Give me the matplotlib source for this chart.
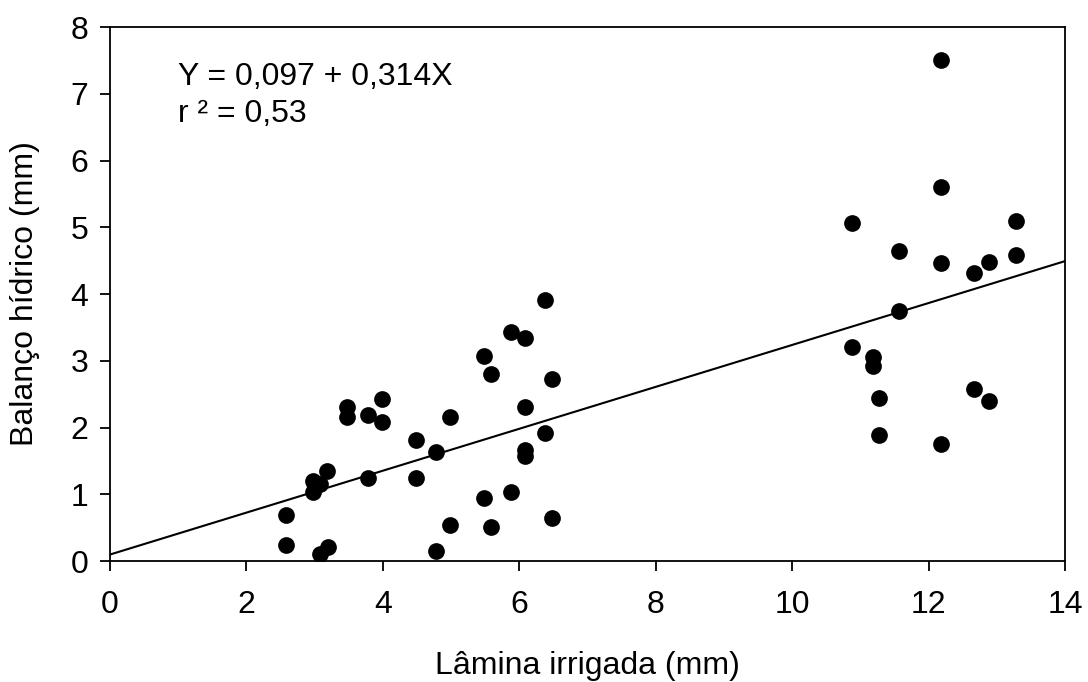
#! /usr/bin/env python3

import numpy as np
import matplotlib
matplotlib.use('Agg')
import matplotlib.pyplot as plt

# lamina irrigada (mm) x balanco hidrico (mm)
lamina = [2.58, 2.58, 2.98, 2.98, 3.08, 3.18, 3.08, 3.19,
          3.48, 3.48, 3.78, 3.98, 3.98, 3.78, 4.48, 4.48, 4.78, 4.78, 4.98, 4.98,
          6.38, 5.88, 6.09, 5.48, 5.58, 6.48, 6.09, 6.38, 6.09, 6.09, 5.48, 5.88, 5.58, 6.48,
          12.18, 12.18, 10.88, 13.28, 11.57, 12.18, 13.28, 12.88, 12.67, 11.57,
          10.88, 11.18, 11.18, 12.67, 12.88, 11.28, 11.28, 12.18]
balanco = [0.69, 0.24, 1.20, 1.04, 1.16, 1.35, 0.11, 0.21,
           2.31, 2.15, 2.19, 2.42, 2.09, 1.25, 1.81, 1.24, 1.64, 0.15, 2.15, 0.54,
           3.91, 3.43, 3.34, 3.07, 2.80, 2.73, 2.31, 1.92, 1.66, 1.57, 0.95, 1.03, 0.51, 0.64,
           7.51, 5.61, 5.06, 5.09, 4.65, 4.46, 4.58, 4.48, 4.31, 3.75,
           3.20, 3.05, 2.92, 2.57, 2.40, 2.44, 1.89, 1.75]

a, b = 0.097, 0.314  # Y = a + bX

plt.rcParams['font.family'] = ['Liberation Sans', 'DejaVu Sans']
fs = 23

fig = plt.figure(figsize=(10.88, 6.82), dpi=100)
ax = fig.add_axes([0.1011, 0.1774, 0.8778, 0.7830])

ax.scatter(lamina, balanco, s=145, color='black', linewidths=0, zorder=3)
xl = np.array([0, 14])
ax.plot(xl, a + b * xl, color='black', lw=1.5)

ax.set_xlim(0, 14)
ax.set_ylim(0, 8)
ax.set_xticks(range(0, 15, 2))
ax.set_yticks(range(0, 9))
ax.tick_params(direction='out', length=7, width=1.3, labelsize=fs)
ax.tick_params(axis='x', pad=14)
ax.tick_params(axis='y', pad=8.5)
for s in ax.spines.values():
    s.set_linewidth(1.3)

ax.set_xlabel('Lâmina irrigada (mm)', fontsize=fs, va='baseline')
ax.xaxis.set_label_coords(0.5, -0.2116)
ax.set_ylabel('Balanço hídrico (mm)', fontsize=fs, va='baseline')
ax.yaxis.set_label_coords(-0.0806, 0.5)

ax.text(1.0, 7.13, 'Y = 0,097 + 0,314X', fontsize=fs, va='baseline', ha='left')
ax.text(1.0, 6.58, 'r ² = 0,53', fontsize=fs, va='baseline', ha='left')

fig.savefig('out.png', dpi=100)
